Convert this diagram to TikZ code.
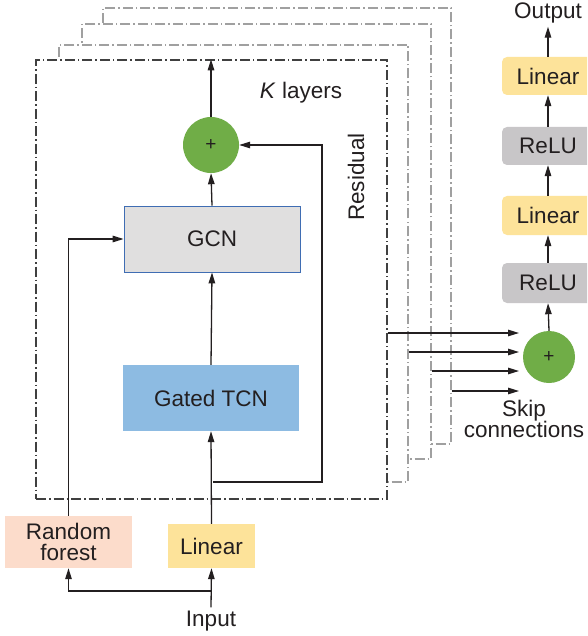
\documentclass[tikz,border=0pt]{standalone}
\usepackage{fontspec}
\setmainfont{Liberation Sans}
\usetikzlibrary{arrows.meta,calc}

\definecolor{ink}{HTML}{231F20}
\definecolor{plusgreen}{HTML}{70AD47}
\definecolor{gcnfill}{HTML}{E0DFDF}
\definecolor{gcnline}{HTML}{3F6DB3}
\definecolor{tcnfill}{HTML}{8DBBE2}
\definecolor{rffill}{HTML}{FCDCCB}
\definecolor{linfill}{HTML}{FDE39A}
\definecolor{relufill}{HTML}{C8C6C8}
\definecolor{frontframe}{HTML}{404040}
\definecolor{backframe}{HTML}{A0A0A0}

\tikzset{
  txt/.style={font=\fontsize{22.5}{21}\selectfont, text=ink},
  block/.style={txt, inner sep=0pt, align=center},
  addnode/.style={circle, fill=plusgreen, inner sep=0pt,
    font=\fontsize{19}{19}\selectfont, text=ink},
  flow/.style={draw=ink, line width=1.3pt,
    -{Triangle[length=11pt,width=6.5pt]}},
  frame/.style={fill=white, line width=1.1pt,
    dash pattern=on 10pt off 3pt on 1.5pt off 3pt},
  frontlayer/.style={frame, draw=frontframe, line width=1.3pt},
  backlayer/.style={frame, draw=backframe},
  headbox/.style={block, rounded corners=5pt, minimum width=92pt}
}

\begin{document}
\begin{tikzpicture}[x=1pt,y=-1pt]
\clip (0,0) rectangle (587,636);
\fill[white] (0,0) rectangle (587,636);

% stacked layers, back to front
\node[backlayer, minimum width=348pt, minimum height=436pt] (L4) at (277,226) {};
\node[backlayer, minimum width=349pt, minimum height=435pt] (L3) at (256.5,241.5) {};
\node[backlayer, minimum width=349pt, minimum height=437pt] (L2) at (233.5,263.5) {};
\node[frontlayer, minimum width=351pt, minimum height=439pt] (L1) at (211.5,279.5) {};

\node[txt] (klayers) at (301,93) {\textit{K} layers};
\node[txt, rotate=90] (residual) at (356,177) {Residual};

% blocks inside a layer
\node[addnode, minimum size=56pt] (plus) at (211,145) {+};
\node[block, fill=gcnfill, draw=gcnline, line width=0.8pt,
      minimum width=176pt, minimum height=66pt] (gcn) at (212,239) {GCN};
\node[block, fill=tcnfill, minimum width=176pt, minimum height=66pt] (tcn) at (211,398) {Gated TCN};

% input stage
\node[block, fill=rffill, minimum width=127pt, minimum height=52pt] (rf) at (68.5,542) {Random\\forest};
\node[block, fill=linfill, minimum width=87pt, minimum height=44pt] (lin) at (211.5,546) {Linear};
\node[txt] (input) at (211,621) {Input};

% output head
\node[addnode, minimum size=52pt] (plus2) at (549,357) {+};
\node[headbox, fill=relufill, minimum height=40pt] (relu2) at (548,283) {ReLU};
\node[headbox, fill=linfill, minimum height=39pt] (lin3) at (548,215.5) {Linear};
\node[headbox, fill=relufill, minimum height=38pt] (relu1) at (548,146) {ReLU};
\node[headbox, fill=linfill, minimum height=38pt] (lin2) at (548,76) {Linear};
\node[txt] (out) at (548,13) {Output};
\node[txt, align=center] (skiptxt) at (524,419) {Skip\\connections};

% connectors inside the layer
\draw[flow] (lin.north) -- (tcn.south);
\draw[flow] (tcn.north) -- (gcn.south);
\draw[flow] (gcn.north) -- (plus.south);
\draw[flow] (plus.north) -- (plus.north |- L1.north);
\coordinate (r0) at (213,482);
\coordinate (rc) at (322,482);
\draw[flow] (r0) -- (rc) |- (plus.east);
\draw[flow] (rf.north) |- (gcn.west);

% input split
\coordinate (split) at (211,591);
\draw[flow] (input.north) -- (lin.south);
\draw[flow] (split) -| (rf.south);

% skip connections from every layer
\coordinate (s1) at (519,333);
\coordinate (s2) at (519,352);
\coordinate (s3) at (519,371);
\coordinate (s4) at (519,391);
\draw[flow] (L1.east |- s1) -- (s1);
\draw[flow] (L2.east |- s2) -- (s2);
\draw[flow] (L3.east |- s3) -- (s3);
\draw[flow] (L4.east |- s4) -- (s4);

% output head connectors
\draw[flow] (plus2.north) -- (relu2.south);
\draw[flow] (relu2.north) -- (lin3.south);
\draw[flow] (lin3.north) -- (relu1.south);
\draw[flow] (relu1.north) -- (lin2.south);
\draw[flow] (lin2.north) -- (out.south);
\end{tikzpicture}
\end{document}
